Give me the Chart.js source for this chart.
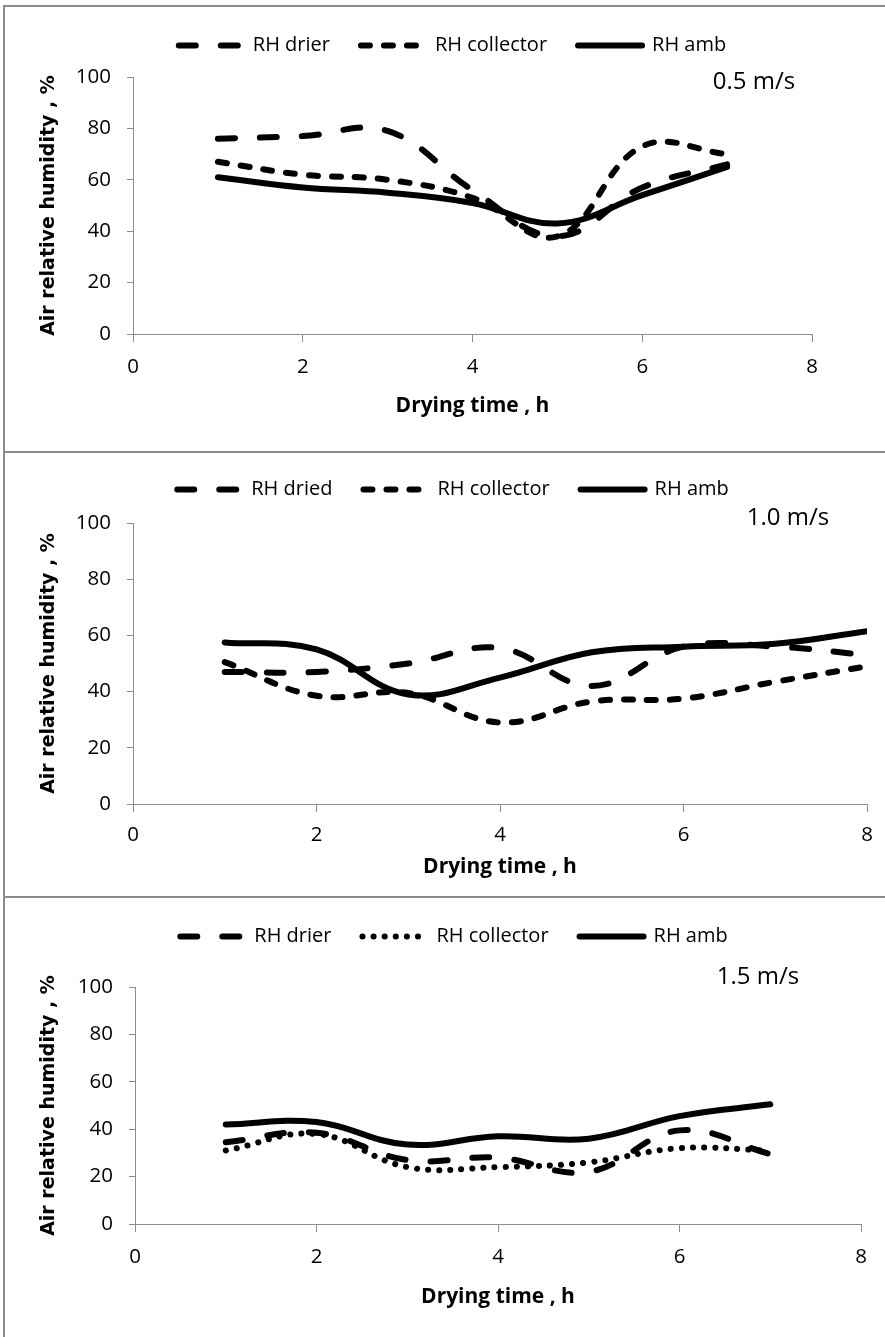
<!DOCTYPE html>
<html>
<head>
<meta charset="utf-8">
<script src="https://cdn.jsdelivr.net/npm/chart.js@4.4.1/dist/chart.umd.min.js"></script>
<style>
  html, body { margin: 0; padding: 0; background: #fff; overflow: hidden; }
  body { width: 885px; height: 1337px; position: relative; }
  .panel { position: absolute; left: 3px; width: 905px; box-sizing: border-box;
           border-top: 2px solid #8c8c8c; border-left: 2px solid #8c8c8c; background: #fff; }
  .panel canvas { display: block; }
</style>
</head>
<body>
<div class="panel" style="top:5px;height:446px"><canvas id="chart05" width="900" height="444"></canvas></div>
<div class="panel" style="top:451px;height:445px"><canvas id="chart10" width="900" height="443"></canvas></div>
<div class="panel" style="top:896px;height:441px"><canvas id="chart15" width="900" height="439"></canvas></div>

<script>
// drying time (h) of each reading
const hours7 = [1, 2, 3, 4, 5, 6, 7];
const hours8 = [1, 2, 3, 4, 5, 6, 7, 8];
const xTicks = [0, 2, 4, 6, 8];
const yTicks = [0, 20, 40, 60, 80, 100];

// air speed 0.5 m/s
const drier05 = [76, 77, 79, 56, 38, 57, 66];
const collector05 = [67, 62, 60, 53, 38, 73, 70];
const amb05 = [61, 57, 55, 51, 43, 54, 65];

// air speed 1.0 m/s
const dried10 = [47, 47, 50, 55.5, 42, 56, 56, 53];
const collector10 = [50.5, 38.5, 39.5, 29, 36.5, 37.5, 43.5, 49];
const amb10 = [57.5, 55, 39, 45, 54, 56, 57, 61.5];

// air speed 1.5 m/s
const drier15 = [34.5, 38.5, 27, 28, 22, 39.5, 29.5];
const collector15 = [31, 38, 24, 24, 26, 32, 31];
const amb15 = [42, 43, 33.5, 37, 36, 45.5, 50.5];

const FONT = "'Open Sans', sans-serif";
const AXIS = '#8c8c8c';
const LONG_DASH = [17, 25];
const SHORT_DASH = [9, 14];
const DOTS = [0.1, 11];

function toPoints(xs, ys) {
  return xs.map((x, i) => ({ x: x, y: ys[i] }));
}

function lineSet(label, xs, ys, dash) {
  return {
    label: label,
    data: toPoints(xs, ys),
    xAxisID: 'x',
    yAxisID: 'y',
    borderColor: '#000',
    backgroundColor: '#000',
    borderWidth: 6,
    borderDash: dash,
    borderCapStyle: 'round',
    borderJoinStyle: 'round',
    pointRadius: 0,
    tension: 0.4,
    fill: false
  };
}

// "0.5 m/s" etc. written inside the plot
const speedLabel = {
  id: 'speedLabel',
  afterDatasetsDraw(chart, args, opts) {
    const { ctx, scales } = chart;
    ctx.save();
    ctx.font = '24px ' + FONT;
    ctx.fillStyle = '#000';
    ctx.textAlign = 'left';
    ctx.textBaseline = 'middle';
    ctx.fillText(opts.text, scales.x.getPixelForValue(opts.x), scales.y.getPixelForValue(opts.y));
    ctx.restore();
  }
};

function makeChart(id, datasets, speed, lay) {
  return new Chart(document.getElementById(id), {
    type: 'line',
    data: { datasets: datasets },
    plugins: [speedLabel],
    options: {
      responsive: false,
      animation: false,
      devicePixelRatio: 1,
      events: [],
      layout: { padding: { left: 0, right: lay.right, top: lay.top, bottom: 0 } },
      plugins: {
        legend: {
          position: 'top',
          align: 'center',
          labels: {
            usePointStyle: true,
            pointStyleWidth: 64,
            padding: 31,
            color: '#000',
            font: { family: FONT, size: 20 },
            generateLabels: chart => chart.data.datasets.map((ds, i) => ({
              text: ds.label,
              fillStyle: ds.borderColor,
              strokeStyle: ds.borderColor,
              lineWidth: ds.borderWidth,
              lineDash: ds.borderDash,
              lineCap: 'round',
              pointStyle: 'line',
              hidden: false,
              datasetIndex: i
            }))
          }
        },
        // empty title only used as a gap between legend and plot
        title: { display: true, text: '', weight: 500, padding: { top: lay.gap, bottom: 0 }, font: { size: 1, lineHeight: 1 } },
        tooltip: { enabled: false },
        speedLabel: speed
      },
      scales: {
        x: {
          type: 'linear',
          min: 0,
          max: 8,
          afterFit: s => { s.height = lay.xHeight; },
          afterBuildTicks: s => { s.ticks = xTicks.map(v => ({ value: v })); },
          ticks: { color: '#000', font: { family: FONT, size: 20.5 }, padding: lay.xTickPad, maxRotation: 0 },
          grid: { drawOnChartArea: false, drawTicks: true, tickLength: 8, color: AXIS },
          border: { display: true, color: AXIS, width: 1 },
          title: {
            display: true, text: 'Drying time , h', color: '#000',
            font: { family: FONT, size: 21, weight: 'bold' },
            padding: { top: 0, bottom: lay.xTitlePad }
          }
        },
        y: {
          type: 'linear',
          position: 'left',
          min: 0,
          max: 100,
          afterFit: s => { s.width = lay.yWidth; },
          afterBuildTicks: s => { s.ticks = yTicks.map(v => ({ value: v })); },
          ticks: { color: '#000', font: { family: FONT, size: 20.5 }, padding: 16 },
          grid: { drawOnChartArea: false, drawTicks: true, tickLength: 6, color: AXIS },
          border: { display: true, color: AXIS, width: 1 },
          title: {
            display: true, text: 'Air relative humidity , %', color: '#000',
            font: { family: "'DejaVu Sans', sans-serif", size: 19, weight: 'bold' },
            padding: { top: 33, bottom: 0 }
          }
        },
        // empty right axis: keeps white space right of the plot so the legend stays centred on the panel
        spacer: {
          type: 'linear',
          axis: 'y',
          position: 'right',
          afterFit: s => { s.width = lay.rightGap; },
          ticks: { display: false },
          grid: { display: false },
          border: { display: false }
        }
      }
    }
  });
}

makeChart('chart05', [
  lineSet('RH drier', hours7, drier05, LONG_DASH),
  lineSet('RH collector', hours7, collector05, SHORT_DASH),
  lineSet('RH amb', hours7, amb05, [])
], { text: '0.5 m/s', x: 6.83, y: 98 },
{ right: 5, rightGap: 88, top: -2.5, gap: 10.5, yWidth: 128, xHeight: 117, xTickPad: 12.5, xTitlePad: 32.4 });

makeChart('chart10', [
  lineSet('RH dried', hours8, dried10, LONG_DASH),
  lineSet('RH collector', hours8, collector10, SHORT_DASH),
  lineSet('RH amb', hours8, amb10, [])
], { text: '1.0 m/s', x: 6.69, y: 101.8 },
{ right: 4, rightGap: 34, top: -4.5, gap: 12.5, yWidth: 128, xHeight: 92, xTickPad: 11, xTitlePad: 16.4 });

makeChart('chart15', [
  lineSet('RH drier', hours7, drier15, LONG_DASH),
  lineSet('RH collector', hours7, collector15, DOTS),
  lineSet('RH amb', hours7, amb15, [])
], { text: '1.5 m/s', x: 6.41, y: 104 },
{ right: 2, rightGap: 42, top: -2.5, gap: 29.5, yWidth: 130, xHeight: 113, xTickPad: 13, xTitlePad: 27.4 });
</script>
</body>
</html>
